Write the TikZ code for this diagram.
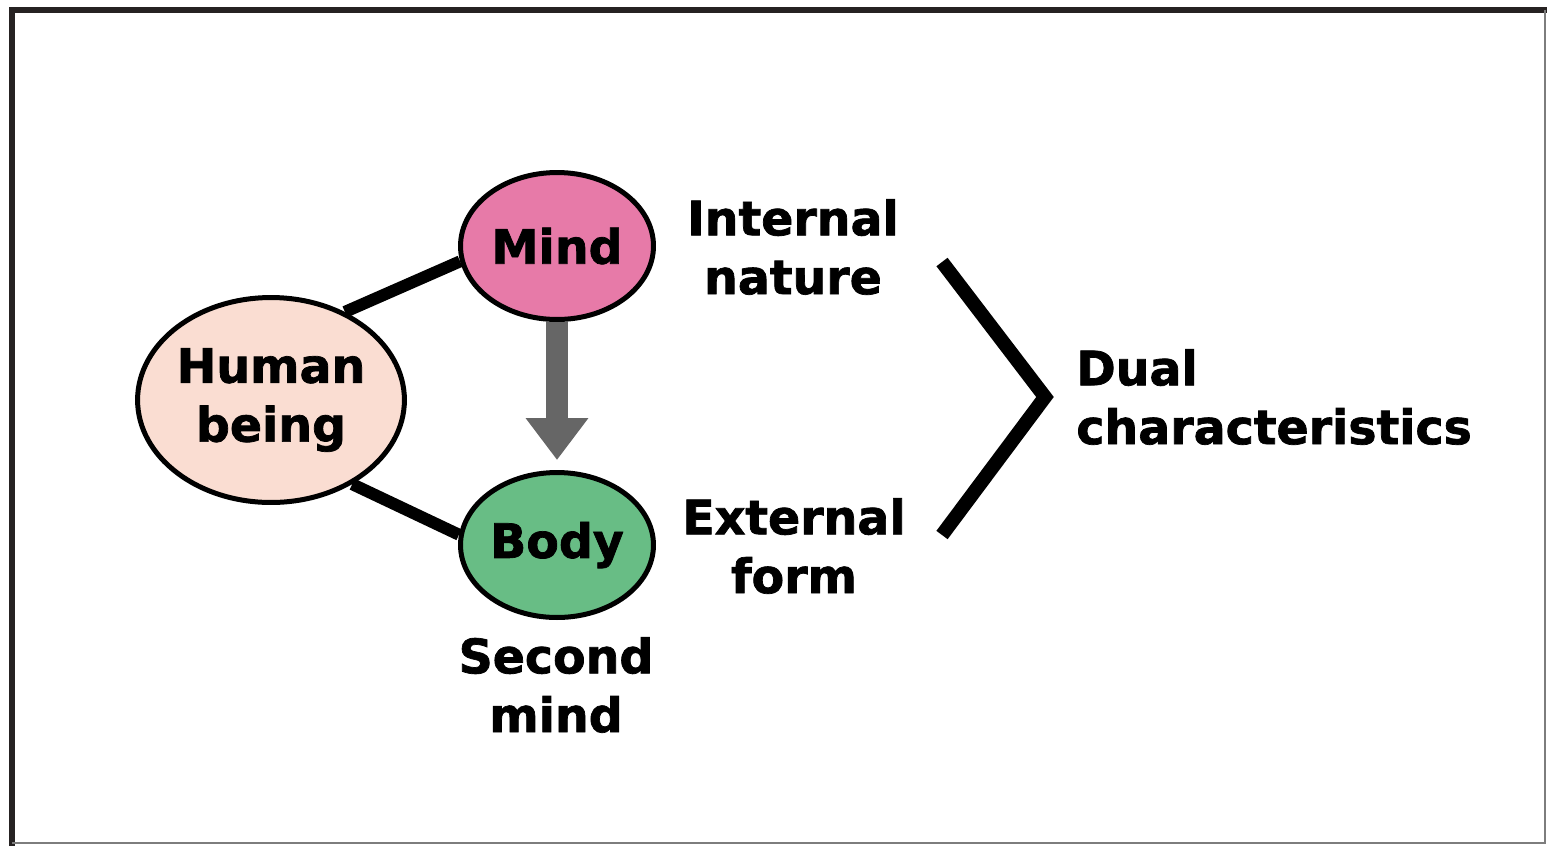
\documentclass[tikz,border=0pt]{standalone}
\usepackage{fontspec}
\setmainfont{DejaVu Sans}
\newfontfamily\heavyfont{DejaVu Sans}[BoldFeatures={FakeBold=1.5}]
\usepackage{tikz}
\usetikzlibrary{arrows.meta,positioning,shapes.geometric,backgrounds}
\definecolor{humanc}{RGB}{250,221,210}
\definecolor{mindc}{RGB}{231,122,168}
\definecolor{bodyc}{RGB}{104,189,133}
\definecolor{arrowc}{RGB}{102,102,102}
\definecolor{framec}{RGB}{38,34,34}
\definecolor{edgec}{RGB}{125,125,125}
\newcommand{\diagfont}{\heavyfont\fontsize{27}{33.5}\selectfont\bfseries}
\tikzset{
  blob/.style={ellipse,draw=black,line width=0.1cm,inner sep=0pt,font=\diagfont,align=center},
  lbl/.style={font=\diagfont,align=center,inner sep=0pt},
  link/.style={line width=0.24cm,draw=black},
  fat/.style={-{Triangle[length=0.84cm,width=1.2cm]},line width=0.44cm,draw=arrowc},
  chev/.style={line width=0.28cm,draw=black,miter limit=10},
}
\begin{document}
\begin{tikzpicture}[x=0.02cm,y=-0.02cm]
  \useasboundingbox (0,0) rectangle (1547,846);
  % frame
  \draw[line width=0.12cm,draw=framec] (12,846) -- (12,10) -- (1547,10);
  \draw[line width=0.05cm,draw=edgec] (1545,10) -- (1545,843) -- (12,843);
  % ellipses
  \node[blob,fill=humanc,minimum width=5.2cm,minimum height=4.1cm] (human) at (271,400) {Human\\being};
  \node[blob,fill=mindc,minimum width=3.86cm,minimum height=2.94cm] (mind) at (557,246) {Mind};
  \node[blob,fill=bodyc,minimum width=3.86cm,minimum height=2.9cm] (body) at (557,545) {Body};
  \begin{scope}[on background layer]
    \draw[link] (human.50) -- (mind.189);
    \draw[link] (human.-46) -- (body.174);
    \draw[fat,shorten >=0.2cm] (mind) -- (body);
  \end{scope}
  % labels
  \node[lbl] (inner) at (793,247) {Internal\\nature};
  \node[lbl] (outer) at (794,546) {External\\form};
  \node[lbl] (second) at (556,685) {Second\\mind};
  \node[lbl,anchor=west,align=left] (dual) at (1076,397) {Dual\\characteristics};
  % chevron
  \coordinate (ctop) at (942,262);
  \coordinate (ctip) at (1045,397);
  \coordinate (cbot) at (942,535);
  \draw[chev] (ctop) -- (ctip) -- (cbot);
\end{tikzpicture}
\end{document}
